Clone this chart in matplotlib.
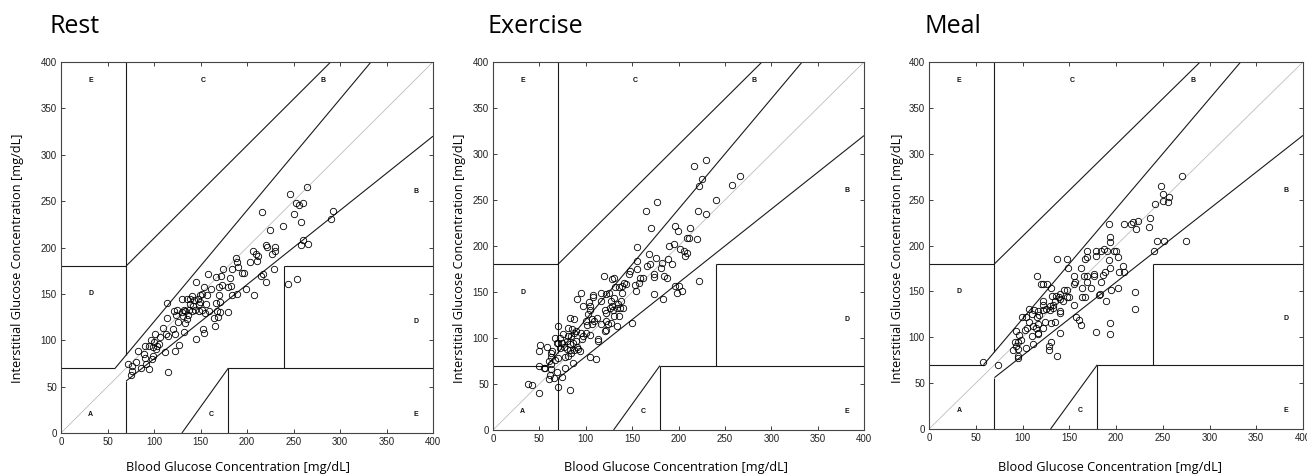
import matplotlib
matplotlib.use("Agg")
import matplotlib.pyplot as plt

# ---------------- data ----------------
rest_ref = [71.6, 76.6, 75.9, 75.6, 80.2, 82.4, 85.6, 89.5, 89.9, 91.0, 89.9, 94.5, 94.9, 96.7, 97.4, 98.8,
            99.9, 98.5, 101.3, 102.0, 103.5, 104.9, 106.7, 110.0, 111.4, 112.4, 113.5, 114.2, 114.6, 114.6,
            120.3, 121.0, 122.1, 122.8, 123.5, 125.0, 126.0, 127.1, 129.6, 129.6, 130.7, 131.8, 132.5, 133.6,
            133.6, 135.0, 136.0, 136.8, 137.5, 138.2, 138.9, 140.4, 140.7, 141.4, 143.2, 144.0, 145.4, 145.0,
            146.8, 147.9, 148.3, 149.0, 149.7, 151.1, 151.8, 152.9, 153.6, 154.3, 155.0, 156.1, 157.2, 157.9,
            159.0, 161.5, 164.0, 165.1, 166.2, 166.9, 168.0, 168.7, 169.7, 170.1, 170.8, 171.5, 171.9, 173.0,
            174.7, 179.4, 179.8, 182.0, 183.0, 184.1, 184.4, 188.0, 189.0, 189.4, 190.5, 194.8, 197.0, 198.4,
            203.4, 206.6, 208.0, 209.5, 210.9, 211.6, 214.9, 215.9, 217.4, 220.6, 220.6, 221.3, 224.9, 227.0,
            228.8, 230.3, 230.3, 238.5, 243.9, 246.0, 250.7, 252.5, 253.9, 255.7, 258.5, 257.8, 260.3, 260.7,
            264.6, 266.1, 290.4, 292.6]
rest_meas = [74.3, 72.5, 67.0, 62.8, 77.0, 88.6, 70.0, 85.0, 81.4, 74.6, 94.0, 93.3, 68.9, 100.8, 79.3, 92.2,
             98.0, 82.5, 106.5, 90.4, 94.0, 96.1, 103.3, 113.0, 86.8, 106.5, 140.3, 124.1, 105.1, 65.3,
             112.3, 131.3, 106.5, 88.6, 127.7, 132.7, 119.5, 95.0, 144.6, 130.6, 126.3, 109.4, 132.7, 131.0,
             118.7, 144.6, 123.0, 127.7, 133.0, 138.8, 144.6, 148.2, 131.3, 137.0, 143.9, 132.7, 162.5, 101.5,
             144.2, 139.6, 132.0, 148.5, 141.0, 150.0, 132.7, 112.3, 108.3, 157.5, 129.5, 139.2, 148.5, 171.5,
             131.7, 155.3, 124.5, 115.5, 140.3, 167.9, 131.0, 124.8, 157.8, 149.2, 141.7, 130.2, 169.0, 160.0,
             177.2, 130.2, 157.8, 167.5, 158.9, 148.5, 176.5, 188.3, 149.6, 184.7, 179.4, 172.9, 172.6, 155.7,
             184.4, 196.6, 148.5, 193.0, 185.8, 191.2, 169.7, 238.6, 171.1, 162.5, 202.7, 200.5, 218.5, 193.0,
             176.5, 200.5, 196.6, 223.5, 160.4, 257.6, 236.4, 247.9, 166.5, 245.7, 227.8, 202.7, 247.9, 207.7,
             265.1, 203.4, 230.7, 239.6]

exercise_ref = [230.0, 217.0, 225.0, 222.0, 266.0, 258.0, 240.0, 176.8, 164.6, 221.0, 230.0, 170.7, 195.9, 199.8,
                212.8, 209.2, 211.7, 220.0, 194.8, 190.1, 155.6, 201.3, 205.6, 209.2, 206.6, 167.8, 176.1, 155.6,
                168.9, 189.0, 193.0, 182.6, 181.5, 165.7, 155.6, 147.3, 146.6, 173.6, 173.6, 158.1, 162.1, 184.4,
                187.6, 157.8, 153.5, 154.5, 173.6, 182.9, 196.6, 200.2, 198.0, 203.8, 221.7, 150.2, 119.7, 130.1,
                128.7, 140.9, 139.1, 135.8, 143.0, 131.9, 139.5, 125.1, 122.2, 116.1, 108.2, 108.2, 94.9, 90.6,
                130.1, 127.2, 138.4, 116.4, 103.5, 104.9, 97.0, 134.8, 128.7, 125.8, 133.7, 137.0, 140.5, 120.4,
                122.2, 129.4, 104.9, 102.8, 82.7, 87.7, 136.2, 130.8, 106.7, 112.1, 100.6, 101.7, 109.3, 107.1,
                116.1, 121.5, 123.6, 127.2, 134.1, 120.8, 122.2, 100.6, 104.9, 96.3, 97.0, 95.3, 70.4, 75.5,
                80.5, 85.2, 87.3, 89.1, 84.5, 81.2, 71.9, 67.2, 74.8, 70.1, 69.0, 76.5, 79.8, 82.7, 86.3, 89.8,
                90.9, 80.1, 83.4, 86.9, 94.2, 91.6, 112.8, 112.8, 72.6, 58.6, 64.0, 62.5, 62.2, 60.7, 66.8, 69.7,
                77.3, 80.9, 83.7, 50.3, 49.2, 50.0, 54.6, 55.7, 62.9, 62.9, 77.3, 86.3, 104.9, 110.7, 69.0, 74.0,
                61.1, 60.0, 65.4, 69.7, 37.7, 41.7, 50.0, 82.7]
exercise_meas = [293.7, 286.5, 272.7, 265.5, 275.6, 266.5, 250.2, 247.7, 238.3, 238.3, 234.3, 220.1, 221.2, 216.5,
                 220.1, 209.2, 209.2, 207.4, 202.0, 200.2, 198.4, 196.6, 194.7, 192.9, 189.3, 191.1, 187.5, 183.9,
                 180.2, 185.7, 180.2, 182.0, 175.9, 178.4, 175.5, 173.0, 169.4, 169.4, 166.8, 165.7, 165.7, 167.5,
                 165.7, 160.3, 157.8, 151.2, 147.6, 142.2, 156.7, 156.7, 149.4, 151.2, 162.1, 116.8, 167.5, 165.7,
                 163.9, 160.3, 156.7, 154.9, 158.5, 154.9, 149.4, 148.7, 147.6, 148.7, 146.5, 144.3, 148.7, 142.5,
                 144.0, 140.3, 140.3, 140.3, 139.3, 135.3, 135.3, 137.1, 134.9, 133.1, 133.1, 133.1, 133.1, 130.6,
                 127.7, 130.6, 130.6, 125.8, 122.2, 121.1, 124.4, 124.4, 120.4, 122.2, 118.6, 113.9, 118.6, 115.0,
                 115.0, 118.6, 115.0, 116.8, 113.1, 107.7, 108.8, 105.2, 103.0, 99.4, 102.3, 105.9, 113.1, 104.1,
                 111.3, 109.5, 105.9, 107.7, 102.3, 102.3, 100.5, 100.5, 95.0, 94.3, 95.0, 90.7, 96.8, 93.2, 95.0, 96.8,
                 90.7, 87.8, 87.0, 87.0, 85.9, 87.8, 98.6, 96.8, 89.6, 90.7, 85.9, 84.1, 79.8, 75.1, 76.2, 78.7,
                 79.8, 80.5, 84.1, 92.5, 85.9, 69.6, 67.8, 67.1, 71.4, 66.0, 67.8, 72.5, 79.8, 77.6, 63.5, 58.0,
                 59.8, 55.1, 56.2, 47.1, 50.4, 49.0, 39.9, 43.5]

meal_ref = [270.5, 247.7, 250.2, 256.3, 250.2, 255.5, 241.3, 236.4, 235.0, 223.3, 218.3, 216.1, 209.0, 221.1,
            192.0, 194.1, 193.1, 244.2, 251.3, 274.4, 240.3, 168.9, 178.2, 183.5, 187.4, 190.3, 197.7, 200.5,
            178.2, 168.9, 166.5, 201.9, 162.2, 192.7, 193.1, 207.3, 209.0, 203.4, 188.4, 185.6, 176.0, 176.4,
            168.9, 165.4, 155.1, 169.3, 156.5, 155.4, 184.2, 163.3, 173.2, 201.9, 194.5, 183.1, 181.7, 220.4,
            220.4, 189.5, 163.3, 166.9, 155.1, 137.4, 147.3, 149.1, 115.0, 119.3, 122.4, 126.0, 130.3, 144.1,
            147.7, 131.3, 135.6, 139.9, 139.1, 143.4, 148.0, 149.8, 134.9, 139.9, 122.1, 122.4, 129.5, 132.7,
            124.9, 129.5, 132.7, 121.4, 106.5, 112.2, 109.7, 117.1, 117.8, 115.7, 140.6, 139.9, 99.0, 104.0,
            107.2, 124.2, 134.9, 130.8, 116.4, 111.1, 104.7, 102.2, 121.7, 114.6, 116.1, 110.0, 116.8, 93.3,
            96.2, 98.7, 91.6, 95.5, 92.6, 90.2, 95.5, 104.0, 111.1, 130.8, 127.9, 127.9, 95.5, 94.8, 140.2,
            137.0, 157.6, 160.0, 162.2, 178.2, 194.1, 194.1, 57.9, 73.8]
meal_meas = [275.4, 265.2, 256.1, 252.5, 248.1, 247.4, 245.2, 230.0, 219.8, 227.1, 225.2, 223.4, 223.4, 218.0,
             223.4, 208.9, 203.4, 205.3, 205.3, 205.3, 193.6, 193.6, 194.4, 193.6, 196.2, 193.6, 194.4, 194.4,
             188.9, 187.1, 185.3, 187.1, 175.1, 184.2, 175.1, 178.0, 170.8, 170.8, 170.8, 167.8, 169.3, 167.1,
             167.1, 166.4, 167.1, 160.6, 159.9, 158.0, 160.6, 153.3, 153.3, 153.3, 151.5, 147.1, 146.0, 149.7,
             131.2, 139.9, 144.2, 144.2, 135.1, 185.3, 185.3, 175.1, 166.4, 158.0, 158.0, 158.0, 153.3, 151.5,
             151.5, 145.3, 144.6, 147.1, 143.5, 139.9, 144.2, 144.2, 139.9, 141.7, 139.9, 135.1, 134.4, 135.1,
             130.8, 130.1, 131.5, 130.1, 130.8, 129.7, 125.0, 128.2, 124.6, 121.7, 129.0, 126.4, 121.7, 121.7,
             117.0, 117.0, 117.0, 115.5, 114.4, 112.6, 109.7, 108.3, 110.1, 109.7, 103.5, 101.7, 104.6, 107.2,
             102.8, 97.4, 95.2, 95.2, 90.1, 85.7, 87.2, 87.9, 92.6, 95.2, 90.1, 86.5, 79.9, 77.4, 104.6,
             79.6, 121.7, 119.2, 113.4, 106.1, 115.5, 103.5, 72.7, 70.1]

titles = ["Rest", "Exercise", "Meal"]
xlabel = "Blood Glucose Concentration [mg/dL]"
ylabel = "Interstitial Glucose Concentration [mg/dL]"
ticks = [0, 50, 100, 150, 200, 250, 300, 350, 400]

zone_labels = ["A", "B", "B", "C", "C", "D", "D", "E", "E"]
zone_x = [32, 382, 282, 153, 162, 32, 382, 32, 382]
zone_y = [20, 260, 380, 380, 20, 150, 120, 380, 20]

# Clarke error grid boundary segments
grid_x = [[0, 175 / 3], [175 / 3, 400 / 1.2], [70, 70], [0, 70], [70, 290], [70, 70], [70, 400],
          [180, 180], [180, 400], [240, 240], [240, 400], [130, 180]]
grid_y = [[70, 70], [70, 400], [84, 400], [180, 180], [180, 400], [0, 56], [56, 320],
          [0, 70], [70, 70], [70, 180], [180, 180], [0, 70]]

# ---------------- layout (pixels in a 1307x476 canvas) ----------------
W, H = 1307, 476
panels = [
    dict(l=61, r=433, t=62, b=433, tx=50, ylx=18, xlx=238),
    dict(l=493, r=864, t=62, b=430, tx=488, ylx=459, xlx=676),
    dict(l=929, r=1303, t=62, b=429, tx=925, ylx=897, xlx=1110),
]
data = [(rest_ref, rest_meas), (exercise_ref, exercise_meas), (meal_ref, meal_meas)]

label_font = ["Open Sans", "DejaVu Sans"]
tick_font = ["Liberation Sans", "DejaVu Sans"]

fig = plt.figure(figsize=(W / 100, H / 100), dpi=100)
fig.patch.set_facecolor("white")

for p, (ref, meas), title in zip(panels, data, titles):
    ax = fig.add_axes([p["l"] / W, 1 - p["b"] / H, (p["r"] - p["l"]) / W, (p["b"] - p["t"]) / H])
    ax.plot([0, 400], [0, 400], color="#bdbdbd", lw=0.6, zorder=1)
    for gx, gy in zip(grid_x, grid_y):
        ax.plot(gx, gy, color="#1a1a1a", lw=0.8, zorder=2, solid_capstyle="butt")
    ax.plot(ref, meas, linestyle="none", marker="o", ms=4.6, mfc="none", mec="black", mew=0.6, zorder=3)
    for lab, zx, zy in zip(zone_labels, zone_x, zone_y):
        ax.text(zx, zy, lab, ha="center", va="center", fontsize=5, fontweight="bold",
                family=tick_font, color="#111111")
    ax.set_xlim(0, 400)
    ax.set_ylim(0, 400)
    ax.set_xticks(ticks)
    ax.set_yticks(ticks)
    ax.tick_params(direction="in", top=True, right=True, length=3, width=0.6, labelsize=7, pad=3,
                   colors="#222222")
    for lbl in ax.get_xticklabels() + ax.get_yticklabels():
        lbl.set_family(tick_font)
    for s in ax.spines.values():
        s.set_linewidth(0.8)
        s.set_color("#444444")
    fig.text(p["tx"] / W, 1 - 33 / H, title, fontsize=18, family=label_font, va="baseline", ha="left")
    fig.text(p["xlx"] / W, 1 - 468 / H, xlabel, fontsize=9.2, family=label_font, va="center", ha="center")
    fig.text(p["ylx"] / W, 1 - 258 / H, ylabel, fontsize=9.2, family=label_font, va="center", ha="center",
             rotation=90)

fig.savefig("out.png", dpi=100, facecolor="white")
